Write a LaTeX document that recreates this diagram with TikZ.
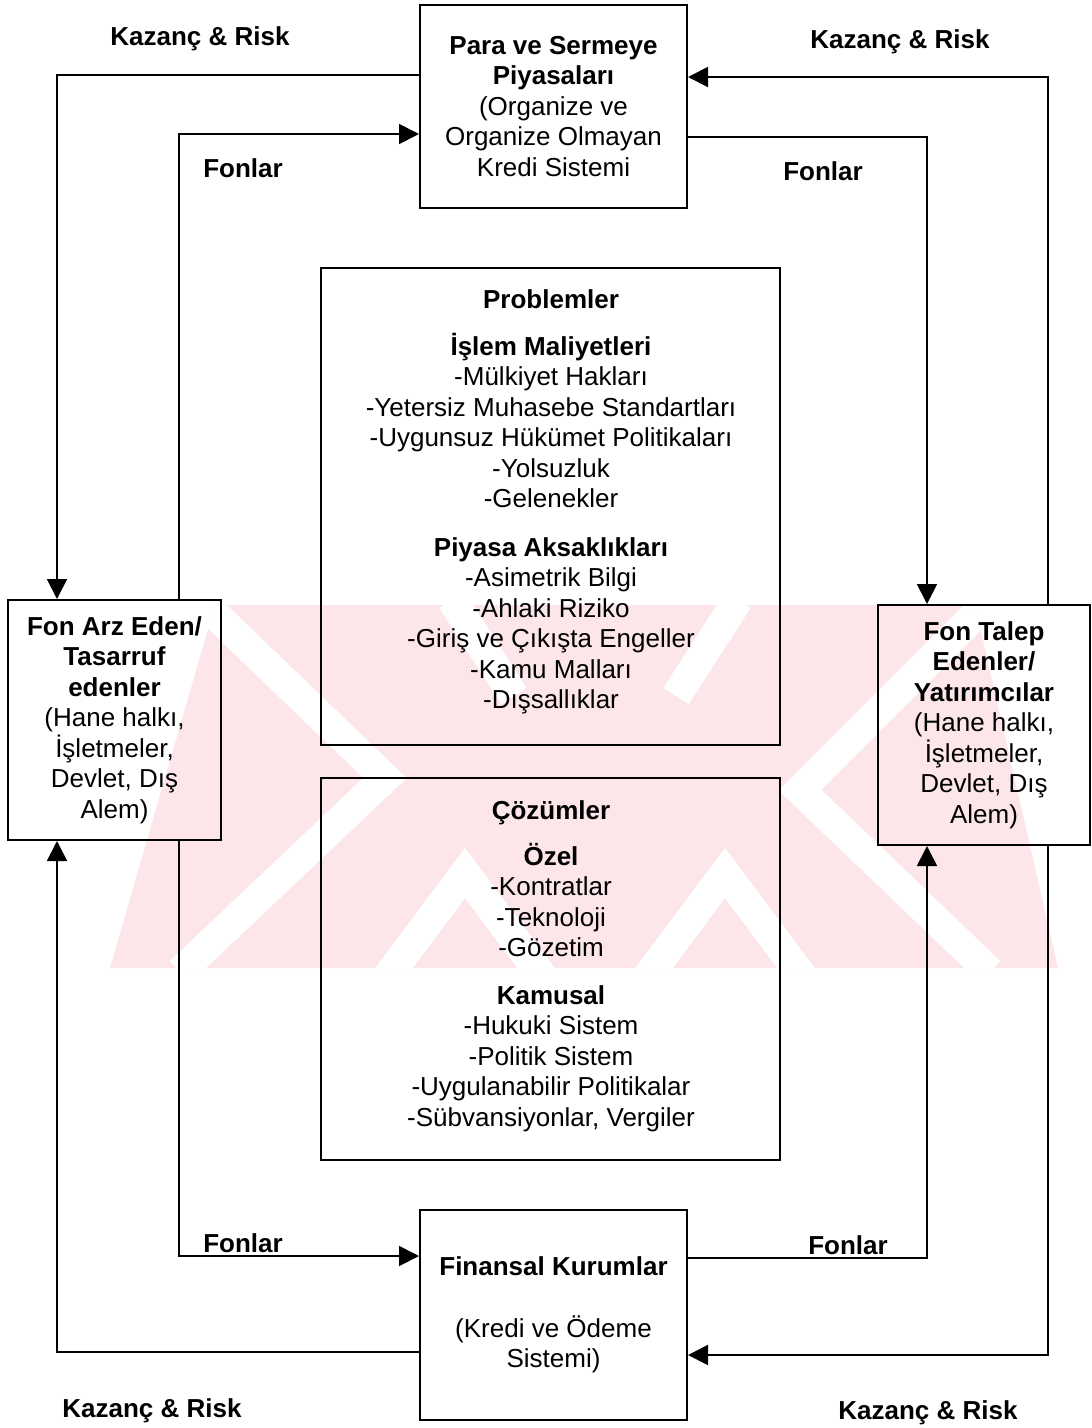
\documentclass[tikz,border=0pt]{standalone}
\usepackage{fontspec}
\setmainfont{Liberation Sans}
\usetikzlibrary{arrows.meta}
\definecolor{wm}{RGB}{252,230,234}
\newcommand{\msize}{\fontsize{26}{30.5}\selectfont}
\begin{document}
\begin{tikzpicture}[x=1pt,y=-1pt,
  box/.style={draw, line width=2pt, inner sep=0pt, align=center, font=\msize},
  sidebox/.style={box, minimum width=213pt, minimum height=240pt},
  txt/.style={align=center, font=\msize, inner sep=0pt},
  lbl/.style={font=\msize\bfseries, inner sep=0pt},
  conn/.style={line width=1.8pt},
  arr/.style={conn, -{Triangle[length=20pt,width=20pt]}},
  gap/.style={white, line width=30pt, line join=miter}]
\useasboundingbox (0,0) rectangle (1092,1428);
% watermark (faint background logo)
\begin{scope}
\clip (215,605) -- (975,605) -- (1058,968) -- (110,968) -- cycle;
\fill[wm] (100,600) rectangle (1070,970);
\draw[gap] (200,600) -- (385,778) -- (180,972);
\draw[gap] (990,600) -- (800,790) -- (990,972);
\draw[gap] (385,980) -- (465,873) -- (545,980);
\draw[gap] (645,980) -- (725,873) -- (805,980);
\draw[gap] (676,696) -- (738,600);
\draw[gap] (514,696) -- (452,600);
\end{scope}
% boxes
\node[box, minimum width=267pt, minimum height=203pt] (pm) at (553.5,106.5)
  {\textbf{Para ve Sermeye}\\\textbf{Piyasaları}\\(Organize ve\\Organize Olmayan\\Kredi Sistemi};
\node[box, minimum width=459pt, minimum height=477pt] (pb) at (550.5,506.5) {};
\node[txt] (ptxt) at (551,502)
  {\textbf{Problemler}\\[16.5pt]\textbf{İşlem Maliyetleri}\\-Mülkiyet Hakları\\-Yetersiz Muhasebe Standartları\\-Uygunsuz Hükümet Politikaları\\-Yolsuzluk\\-Gelenekler\\[18pt]\textbf{Piyasa Aksaklıkları}\\-Asimetrik Bilgi\\-Ahlaki Riziko\\-Giriş ve Çıkışta Engeller\\-Kamu Malları\\-Dışsallıklar};
\node[box, minimum width=459pt, minimum height=382pt] (cb) at (550.5,969) {};
\node[txt] (ctxt) at (551,966)
  {\textbf{Çözümler}\\[15.5pt]\textbf{Özel}\\-Kontratlar\\-Teknoloji\\-Gözetim\\[17pt]\textbf{Kamusal}\\-Hukuki Sistem\\-Politik Sistem\\-Uygulanabilir Politikalar\\-Sübvansiyonlar, Vergiler};
\node[sidebox] (lb) at (114.5,720)
  {\textbf{Fon Arz Eden/}\\\textbf{Tasarruf}\\\textbf{edenler}\\(Hane halkı,\\İşletmeler,\\Devlet, Dış\\Alem)};
\node[sidebox, minimum width=212pt] (rb) at (984,725)
  {\textbf{Fon Talep}\\\textbf{Edenler/}\\\textbf{Yatırımcılar}\\(Hane halkı,\\İşletmeler,\\Devlet, Dış\\Alem)};
\node[box, minimum width=267pt, minimum height=210pt] (fk) at (553.5,1315)
  {\textbf{Finansal Kurumlar}\\[31pt](Kredi ve Ödeme\\Sistemi)};
% connectors
\draw[arr] (pm.west |- 0,75) -| (lb.north -| 57,0);
\draw[arr] (lb.north -| 179,0) |- (pm.west |- 0,134);
\draw[arr] (rb.north -| 1048,0) |- (pm.east |- 0,77);
\draw[arr] (pm.east |- 0,137) -| (rb.north -| 927,0);
\draw[arr] (lb.south -| 179,0) |- (fk.west |- 0,1256);
\draw[arr] (fk.west |- 0,1352) -| (lb.south -| 57,0);
\draw[arr] (fk.east |- 0,1258) -| (rb.south -| 927,0);
\draw[arr] (rb.south -| 1048,0) |- (fk.east |- 0,1355);
% labels
\node[lbl] (kr1) at (200,39) {Kazanç \& Risk};
\node[lbl] (kr2) at (900,42) {Kazanç \& Risk};
\node[lbl] (kr3) at (152,1411) {Kazanç \& Risk};
\node[lbl] (kr4) at (928,1413) {Kazanç \& Risk};
\node[lbl] (f1) at (243,168) {Fonlar};
\node[lbl] (f2) at (823,171) {Fonlar};
\node[lbl] (f3) at (243,1243) {Fonlar};
\node[lbl] (f4) at (848,1245) {Fonlar};
\end{tikzpicture}
\end{document}
